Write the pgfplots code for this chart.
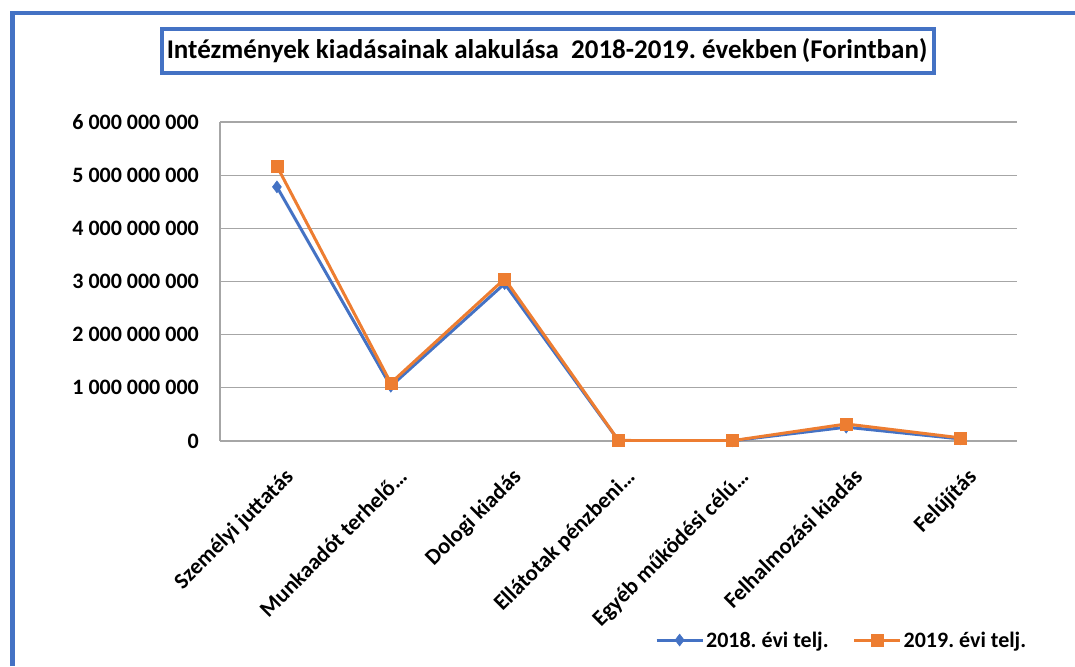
\documentclass[border=0pt]{standalone}
\usepackage{fontspec}
\setmainfont{Carlito}
\usepackage{pgfplots}
\pgfplotsset{compat=1.18}
\definecolor{xlblue}{HTML}{4472C4}
\definecolor{xlorange}{HTML}{ED7D31}
\definecolor{gridgray}{HTML}{A6A6A6}
\frenchspacing
\begin{document}
\begin{tikzpicture}
\useasboundingbox (0pt,0pt) rectangle (1075pt,-666pt);
% outer frame
\draw[xlblue, line width=4.5pt] (12.5pt,-666pt) -- (12.5pt,-13pt) -- (1075pt,-13pt);
% title box
\draw[xlblue, line width=3.5pt, fill=white] (162pt,-29pt) rectangle (934pt,-73pt);
\node[font=\bfseries\fontsize{27}{31}\selectfont] at (547pt,-51pt)
  {Intézmények kiadásainak alakulása\ \ 2018-2019. években\,(Forintban)};
\begin{axis}[
  at={(220pt,-441pt)}, anchor=origin,
  scale only axis, width=797pt, height=319pt,
  xmin=0, xmax=7, ymin=0, ymax=6e9,
  axis x line*=bottom, axis y line*=left,
  axis line style={gridgray, line width=1.3pt, -},
  major tick length=0pt,
  ymajorgrids, grid style={gridgray, line width=1.3pt},
  xtick={0.5,1.5,2.5,3.5,4.5,5.5,6.5},
  xticklabels={{Személyi juttatás}, {Munkaadót terhelő…}, {Dologi kiadás},
    {Ellátotak pénzbeni…}, {Egyéb működési célú…}, {Felhalmozási kiadás}, {Felújítás}},
  xticklabel style={rotate=45, anchor=north east, inner sep=0pt,
    xshift=-14pt, yshift=-23pt,
    font=\bfseries\fontsize{22.5}{26}\selectfont},
  ytick={0,1e9,2e9,3e9,4e9,5e9,6e9},
  yticklabels={{0}, {1 000 000 000}, {2 000 000 000}, {3 000 000 000},
    {4 000 000 000}, {5 000 000 000}, {6 000 000 000}},
  scaled y ticks=false,
  yticklabel style={anchor=east, inner sep=0pt, xshift=-21pt,
    font=\bfseries\fontsize{22}{26}\selectfont},
  legend columns=2,
  legend style={at={(0.78,-0.624)}, anchor=center, draw=none, fill=none,
    font=\bfseries\fontsize{22}{26}\selectfont,
    /tikz/every even column/.append style={column sep=22pt}},
  legend image code/.code={
    \draw[mark repeat=2, mark phase=2] plot coordinates {(0pt,0pt) (23pt,0pt) (46pt,0pt)};},
]
\addplot[xlblue, line width=3pt, mark=diamond*, mark size=6pt,
  mark options={solid, fill=xlblue, draw=xlblue, line width=0.5pt}]
  coordinates {(0.5,4.78e9) (1.5,1.03e9) (2.5,2.96e9) (3.5,0.008e9) (4.5,0.004e9) (5.5,0.26e9) (6.5,0.04e9)};
\addlegendentry{2018. évi telj.}
\addplot[xlorange, line width=3pt, mark=square*, mark size=6pt,
  mark options={solid, fill=xlorange, draw=xlorange, line width=0.5pt}]
  coordinates {(0.5,5.17e9) (1.5,1.09e9) (2.5,3.05e9) (3.5,0.01e9) (4.5,0.006e9) (5.5,0.32e9) (6.5,0.06e9)};
\addlegendentry{2019. évi telj.}
\end{axis}
\end{tikzpicture}
\end{document}
